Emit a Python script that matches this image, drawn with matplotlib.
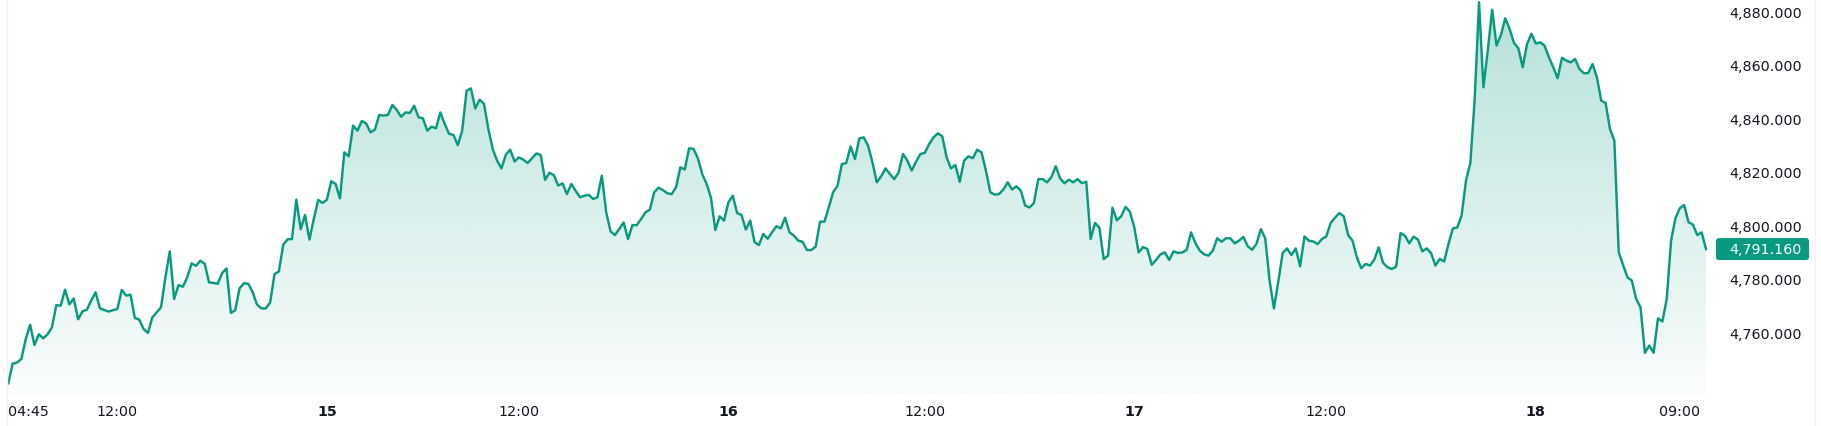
import numpy as np
import matplotlib
matplotlib.use("Agg")
import matplotlib.pyplot as plt
from matplotlib.patches import FancyBboxPatch
from matplotlib.lines import Line2D
from matplotlib.transforms import IdentityTransform

# 15-minute closing prices (bar index based, as on the source chart)
prices = [
    4741.0, 4748.4, 4748.7, 4750.1, 4757.5, 4762.9, 4755.3, 4759.3, 4757.8, 4759.3,
    4761.9, 4770.2, 4770.0, 4776.0, 4770.5, 4772.7, 4764.9, 4767.9, 4768.5, 4771.9,
    4775.0, 4769.0, 4768.4, 4767.8, 4768.3, 4768.8, 4775.9, 4773.8, 4774.1, 4765.4,
    4764.8, 4761.3, 4759.8, 4765.6, 4767.5, 4769.4, 4780.6, 4790.3, 4772.5, 4777.7,
    4777.1, 4780.6, 4785.8, 4784.9, 4786.8, 4785.7, 4778.7, 4778.5, 4778.2, 4782.2,
    4783.9, 4767.3, 4768.3, 4776.5, 4778.4, 4778.2, 4775.0, 4770.4, 4769.0, 4769.0,
    4771.2, 4781.8, 4782.8, 4792.8, 4794.8, 4794.9, 4809.6, 4798.6, 4803.9, 4794.7,
    4802.4, 4809.5, 4808.4, 4809.6, 4816.5, 4815.5, 4810.1,
    4827.3, 4825.8, 4837.3, 4835.4, 4839.0, 4838.1, 4834.8, 4835.8, 4841.3, 4841.0,
    4841.3, 4845.0, 4843.2, 4840.6, 4842.2, 4842.0, 4844.7, 4840.4, 4840.0, 4835.4,
    4836.9, 4836.3, 4842.2, 4837.9, 4834.2, 4833.8, 4830.0, 4835.4, 4850.3, 4851.2,
    4843.7, 4847.0, 4845.4, 4836.0, 4828.5, 4824.2, 4821.3, 4826.4, 4828.3, 4823.9,
    4825.4, 4824.6, 4823.3, 4825.1, 4826.9, 4826.3, 4817.0, 4819.7, 4818.8, 4814.9,
    4815.7, 4811.7, 4815.5, 4812.9, 4810.5, 4811.1, 4811.4, 4809.9, 4810.5, 4818.6,
    4804.9, 4797.8, 4796.4, 4798.7, 4801.1, 4794.9, 4800.1, 4800.1, 4802.4, 4804.9,
    4805.9, 4812.4, 4814.1, 4813.2, 4812.0, 4811.7, 4814.2, 4821.7, 4820.9,
    4828.8, 4828.6, 4825.1, 4819.2, 4815.5, 4810.4, 4798.3, 4803.4, 4801.8, 4808.6,
    4811.1, 4804.6, 4803.9, 4798.4, 4801.8, 4793.7, 4792.7, 4796.8, 4795.0, 4797.4,
    4799.7, 4798.9, 4802.9, 4797.4, 4796.2, 4794.3, 4793.9, 4790.8, 4790.8, 4792.1,
    4801.4, 4801.4, 4806.8, 4812.4, 4814.8, 4822.9, 4823.3, 4829.5, 4824.8, 4832.5,
    4832.9, 4829.8, 4823.6, 4816.1, 4818.3, 4821.3, 4819.2, 4817.3, 4819.8, 4826.7,
    4824.2, 4820.5, 4823.8, 4826.7, 4827.1, 4830.4, 4832.9, 4834.4, 4833.3, 4825.4,
    4821.3, 4822.6, 4816.3, 4824.2, 4825.8, 4825.1, 4828.3, 4827.3, 4820.5, 4812.4,
    4811.5, 4811.7, 4813.4, 4816.1, 4813.4, 4814.6, 4813.0, 4807.4,
    4806.7, 4808.4, 4817.3, 4817.3, 4816.1, 4818.0, 4822.1, 4817.6, 4815.7, 4817.1,
    4816.1, 4817.3, 4815.8, 4816.3, 4794.9, 4800.9, 4799.2, 4787.4, 4788.7, 4806.6,
    4801.9, 4803.4, 4806.9, 4805.1, 4799.3, 4789.9, 4791.9, 4791.2, 4785.3, 4787.1,
    4789.2, 4789.9, 4787.1, 4790.3, 4789.7, 4789.9, 4790.8, 4797.4, 4793.4, 4790.6,
    4789.2, 4788.7, 4790.6, 4795.2, 4793.9, 4795.2, 4795.2, 4793.3, 4794.3, 4795.7,
    4792.2, 4790.9, 4793.1, 4798.6, 4795.2, 4779.4, 4769.0, 4779.0, 4789.7, 4791.4,
    4788.9, 4791.4, 4784.7, 4795.9, 4794.3, 4794.0, 4793.0, 4794.9, 4795.9, 4800.9,
    4802.9, 4804.6, 4803.4, 4796.4, 4794.3, 4788.1, 4784.0, 4785.6,
    4785.0, 4787.2, 4791.8, 4786.0, 4784.4, 4783.7, 4784.6, 4797.1, 4796.2, 4793.3,
    4795.8, 4794.7, 4790.3, 4791.4, 4789.7, 4785.0, 4787.5, 4786.5, 4793.1, 4798.9,
    4799.2, 4803.7, 4816.7, 4823.3, 4847.2, 4883.4, 4851.6, 4865.5, 4880.6, 4867.2,
    4871.1, 4877.4, 4873.4, 4868.2, 4866.2, 4859.1, 4867.8, 4871.6, 4868.0, 4868.4,
    4867.2, 4862.8, 4859.1, 4855.0, 4862.6, 4861.6, 4860.9, 4862.2, 4858.4, 4856.9,
    4856.9, 4860.3, 4855.3, 4846.6, 4845.7, 4836.0, 4831.7, 4790.0, 4785.2, 4780.6,
    4779.4, 4772.5, 4769.4, 4752.4, 4755.1, 4752.4, 4765.3, 4764.1, 4772.5, 4794.3,
    4802.7, 4806.4, 4807.6, 4801.2, 4800.3, 4796.4, 4797.4, 4791.16,
]

# time axis labels (bar index where each label sits)
time_tick_index = [0, 25, 73, 117, 165, 210, 258, 302, 350, 383]
time_tick_labels = ["04:45", "12:00", "15", "12:00", "16", "12:00", "17", "12:00", "18", "09:00"]
day_labels = {"15", "16", "17", "18"}

price_ticks = [4760, 4780, 4800, 4820, 4840, 4860, 4880]

LINE = "#089981"
TEXT = "#131722"

W, H = 1821, 427
fig = plt.figure(figsize=(W / 100, H / 100), dpi=100)
fig.patch.set_facecolor("white")

plot_right_px = 1716
plot_bottom_px = 395
ax = fig.add_axes([0, 1 - plot_bottom_px / H, plot_right_px / W, plot_bottom_px / H])
ax.set_facecolor("white")

x = np.arange(len(prices))
y = np.array(prices)

ax.set_xlim(-1.90, 391.29)
ymin, ymax = 4737.0, 4884.6
ax.set_ylim(ymin, ymax)

# gradient area under the line
poly = ax.fill_between(x, y, ymin, facecolor="none", edgecolor="none")
n = 256
alpha = np.linspace(0.30, 0.02, n)[:, None]
rgb = np.array(matplotlib.colors.to_rgb(LINE))
grad = np.zeros((n, 1, 4))
grad[..., :3] = rgb
grad[..., 3] = alpha
im = ax.imshow(grad, extent=[x[0], x[-1], ymin, ymax], origin="upper",
               aspect="auto", zorder=1, interpolation="bilinear")
im.set_clip_path(poly.get_paths()[0], transform=ax.transData)

ax.plot(x, y, color=LINE, lw=1.75, solid_joinstyle="round", zorder=3)

for s in ax.spines.values():
    s.set_visible(False)

# price axis on the right
ax.yaxis.tick_right()
ax.set_yticks(price_ticks)
ax.set_yticklabels([f"{v:,.3f}" for v in price_ticks])
ax.tick_params(axis="y", length=0, pad=9.4, labelsize=10.3, labelcolor=TEXT)

# time axis
ax.set_xticks(time_tick_index)
ax.set_xticklabels(time_tick_labels)
ax.tick_params(axis="x", length=0, pad=7, labelsize=10.3, labelcolor=TEXT)
for lbl in ax.get_xticklabels():
    if lbl.get_text() in day_labels:
        lbl.set_fontweight("bold")
ax.get_xticklabels()[0].set_ha("left")

# last price label
yc = ax.transData.transform((0, prices[-1]))[1]
box = FancyBboxPatch((1716, yc - 11), 93, 22,
                     boxstyle="round,pad=0,rounding_size=3",
                     transform=IdentityTransform(), facecolor=LINE,
                     edgecolor="none", zorder=5)
fig.add_artist(box)
fig.text(1729 / W, yc / H, f"{prices[-1]:,.3f}", color="white", fontsize=10.3,
         ha="left", va="center", zorder=6)

# faint chart borders
for xp in (7, 1815):
    fig.add_artist(Line2D([xp / W, xp / W], [0, 1], color="#f0f2f5", lw=1,
                          transform=fig.transFigure))

fig.savefig("out.png", dpi=100, facecolor="white")
